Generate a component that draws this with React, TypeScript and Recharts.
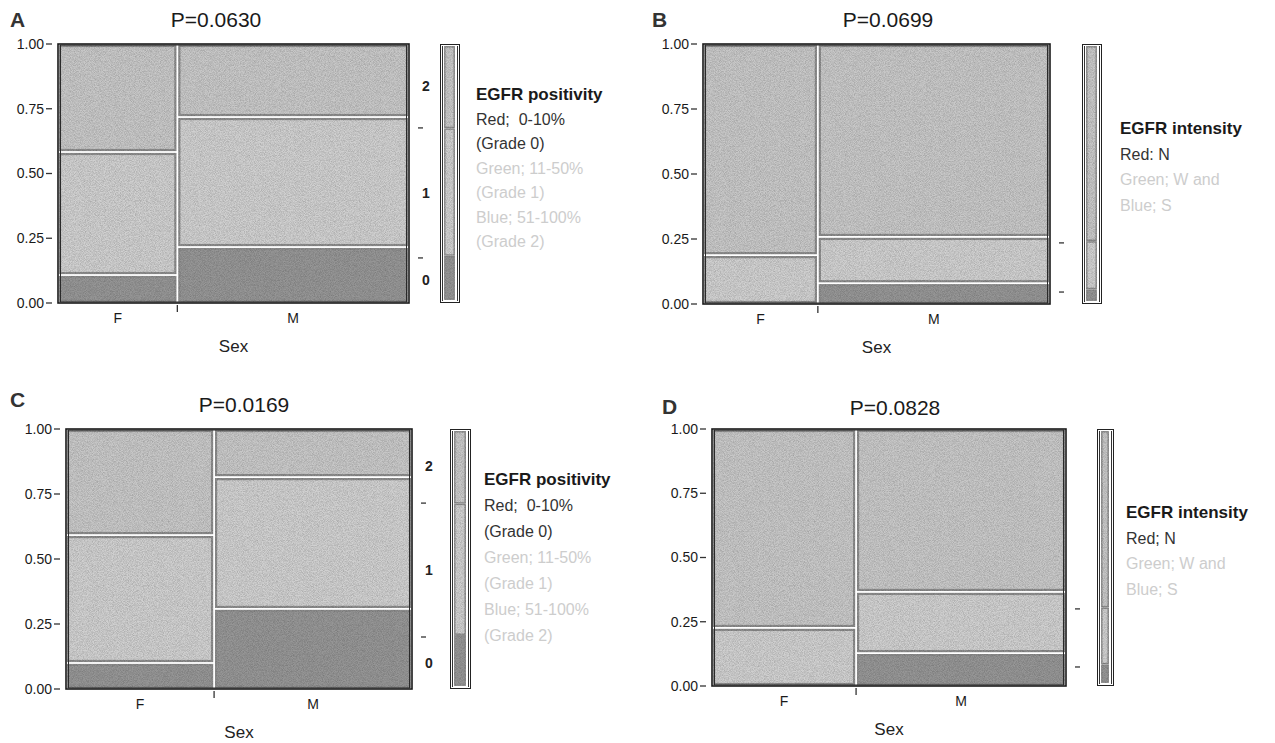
import React from 'react';
import { ComposedChart, BarChart, Bar, Scatter, XAxis, YAxis, ReferenceArea } from 'recharts';

// categories and tick labels
const sexes = ['F', 'M'];
const yTicks = [0, 0.25, 0.5, 0.75, 1];
const gradeNames = ['0', '1', '2'];

// A: EGFR positivity by sex (share of each sex, then grade 0/1/2 proportions)
const sexShareA = [0.34, 0.66];
const posA_F = [0.108, 0.475, 0.417];
const posA_M = [0.216, 0.502, 0.282];
const posA_all = [0.174, 0.502, 0.324];

// B: EGFR intensity by sex (N / W and M / S)
const sexShareB = [0.331, 0.669];
const intB_F = [0, 0.188, 0.812];
const intB_M = [0.08, 0.178, 0.742];
const intB_all = [0.046, 0.189, 0.765];

// C: EGFR positivity by sex
const sexShareC = [0.428, 0.572];
const posC_F = [0.1, 0.492, 0.408];
const posC_M = [0.308, 0.507, 0.185];
const posC_all = [0.2, 0.515, 0.285];

// D: EGFR intensity by sex
const sexShareD = [0.407, 0.593];
const intD_F = [0, 0.226, 0.774];
const intD_M = [0.128, 0.238, 0.634];
const intD_all = [0.074, 0.226, 0.7];

const pValues = ['P=0.0630', 'P=0.0699', 'P=0.0169', 'P=0.0828'];
const positivityLegend = ['Red;  0-10%', '(Grade 0)', 'Green; 11-50%', '(Grade 1)', 'Blue; 51-100%', '(Grade 2)'];
const intensityLegendB = ['Red: N', 'Green; W and', 'Blue; S'];
const intensityLegendD = ['Red; N', 'Green; W and', 'Blue; S'];

const FONT = '"Liberation Sans", Arial, Helvetica, sans-serif';
const cellFills = ['#969696', '#d0d0d0', '#c8c8c8'];
const DARK_TXT = '#333';
const LIGHT_TXT = '#cdcdcd';

const Txt = ({ x, y, size, color = '#222', weight = 400, center = false, children }: any) => (
  <div
    style={{
      position: 'absolute',
      left: x,
      top: y - size * 0.6,
      fontSize: size,
      lineHeight: `${size * 1.2}px`,
      color,
      fontWeight: weight,
      whiteSpace: 'pre',
      fontFamily: FONT,
      transform: center ? 'translateX(-50%)' : undefined,
    }}
  >
    {children}
  </div>
);

const cellShape = (p: any) => {
  const inset = 2;
  const w = Math.max(p.width - 2 * inset, 0);
  const h = Math.max(p.height - 2 * inset, 0);
  if (h < 1) {
    return <line x1={p.x + inset} x2={p.x + inset + w} y1={p.y + p.height - 2.5} y2={p.y + p.height - 2.5} stroke="#8c8c8c" strokeWidth={2} />;
  }
  return (
    <rect x={p.x + inset} y={p.y + inset} width={w} height={h} fill={p.fill} fillOpacity={1} stroke="#8e8e8e" strokeWidth={2.2}
      filter="url(#grain)" />
  );
};

const frameShape = (p: any) => (
  <g fill="none">
    <rect x={p.x} y={p.y} width={p.width} height={p.height} stroke="#1a1a1a" strokeWidth={1.6} />
    <rect x={p.x + 2.5} y={p.y + 1} width={p.width - 5} height={p.height - 2} stroke="#2a2a2a" strokeWidth={1} />
  </g>
);

const barShape = (p: any) => {
  const inset = 0.8;
  return (
    <rect x={p.x + inset} y={p.y + inset} width={Math.max(p.width - 2 * inset, 0)} height={Math.max(p.height - 2 * inset, 0)}
      fill={p.fill} stroke="#8a8a8a" strokeWidth={1.4} filter="url(#grain)" />
  );
};

const noDot = () => <g />;

const cumulative = (vals: number[]) => {
  const out: number[] = [];
  let s = 0;
  vals.forEach((v) => { out.push(s); s += v; });
  return out;
};

const Panel = ({ cfg }: any) => {
  const { L, R, T, B, share, F, M, all, showGrade } = cfg;
  const cols = [F, M];
  const xStart = cumulative(share);
  const plotW = R - L;
  const plotH = B - T;

  const cells: any[] = [];
  cols.forEach((col: number[], si: number) => {
    const yStart = cumulative(col);
    col.forEach((v, gi) => {
      cells.push({ key: `${si}-${gi}`, x1: xStart[si], x2: xStart[si] + share[si], y1: yStart[gi], y2: yStart[gi] + v, fill: cellFills[gi] });
    });
  });
  // cell corners, so the axes have data to work from
  const corners = cells.map((c) => ({ x: c.x2, y: c.y2 }));

  const allStart = cumulative(all);
  const bounds = allStart.slice(1);
  const mids = all.map((v: number, i: number) => allStart[i] + v / 2);
  const marginPts = mids.map((m: number) => ({ x: 1, y: m }));
  const divider = share[0];
  const xTicks = [share[0] / 2, divider, share[0] + share[1] / 2];

  const LeftTick = ({ x, y, payload }: any) => (
    <g>
      <line x1={x - 12} x2={x - 6} y1={y} y2={y} stroke="#333" strokeWidth={1.3} />
      <text x={x - 14} y={y} dy={4.8} textAnchor="end" fontSize={14} fill="#1a1a1a" fontFamily={FONT}>
        {Number(payload.value).toFixed(2)}
      </text>
    </g>
  );

  const RightTick = ({ x, y, payload }: any) => {
    const v = payload.value;
    const gi = mids.findIndex((m: number) => Math.abs(m - v) < 1e-9);
    if (gi >= 0) {
      return showGrade ? (
        <text x={x + 17} y={y} dy={5} textAnchor="middle" fontSize={14} fontWeight="bold" fill="#222" fontFamily={FONT}>
          {gradeNames[gi]}
        </text>
      ) : <g />;
    }
    return <line x1={x + 9} x2={x + 14} y1={y} y2={y} stroke="#333" strokeWidth={1.3} />;
  };

  const BottomTick = ({ x, y, payload }: any) => {
    if (Math.abs(payload.value - divider) < 1e-9) {
      return <line x1={x} x2={x} y1={y + 2} y2={y + 9} stroke="#333" strokeWidth={1.3} />;
    }
    return (
      <text x={x} y={y} dy={20} textAnchor="middle" fontSize={14} fill="#1a1a1a" fontFamily={FONT}>
        {payload.value < divider ? sexes[0] : sexes[1]}
      </text>
    );
  };

  const barData = [{ name: 'all', g0: all[0], g1: all[1], g2: all[2] }];

  return (
    <>
      <div style={{ position: 'absolute', left: L - 45, top: T - 10 }}>
        <ComposedChart width={plotW + 75} height={plotH + 68} margin={{ top: 10, right: 0, bottom: 5, left: 0 }}>
          <XAxis type="number" dataKey="x" domain={[0, 1]} ticks={xTicks} interval={0} tickSize={0} tickMargin={0}
            axisLine={false} tickLine={false} height={53} tick={BottomTick}
            label={{ value: 'Sex', position: 'insideBottom', offset: 4, fontSize: 17, fill: '#222', fontFamily: FONT }} />
          <YAxis yAxisId="l" type="number" dataKey="y" domain={[0, 1]} ticks={yTicks} interval={0} width={45} tickSize={0} tickMargin={0}
            axisLine={false} tickLine={false} tick={LeftTick} />
          <YAxis yAxisId="r" orientation="right" type="number" dataKey="y" domain={[0, 1]} ticks={[...bounds, ...mids]} interval={0}
            width={30} tickSize={0} tickMargin={0} axisLine={false} tickLine={false} tick={RightTick} />
          <Scatter yAxisId="l" data={corners} dataKey="y" shape={noDot} isAnimationActive={false} />
          <Scatter yAxisId="r" data={marginPts} dataKey="y" shape={noDot} isAnimationActive={false} />
          {cells.map((c) => (
            <ReferenceArea key={c.key} yAxisId="l" x1={c.x1} x2={c.x2} y1={c.y1} y2={c.y2} fill={c.fill} fillOpacity={1}
              ifOverflow="visible" shape={cellShape} />
          ))}
          <ReferenceArea yAxisId="l" x1={0} x2={1} y1={0} y2={1} fill="none" ifOverflow="visible" shape={frameShape} />
        </ComposedChart>
      </div>
      <div style={{ position: 'absolute', left: cfg.mx, top: T, width: cfg.mw, height: plotH, boxSizing: 'border-box',
        border: '1.5px solid #222', padding: '1px 1px' }}>
        <div style={{ boxSizing: 'border-box', height: '100%', borderLeft: '1px solid #333', borderRight: '1px solid #333', padding: '0 1px' }}>
          <BarChart width={cfg.mw - 9} height={plotH - 5} data={barData} margin={{ top: 0, right: 0, bottom: 0, left: 0 }} barCategoryGap={0}>
            <XAxis dataKey="name" hide />
            <YAxis type="number" domain={[0, 1]} hide />
            <Bar dataKey="g0" stackId="m" fill={cellFills[0]} isAnimationActive={false} shape={barShape} />
            <Bar dataKey="g1" stackId="m" fill={cellFills[1]} isAnimationActive={false} shape={barShape} />
            <Bar dataKey="g2" stackId="m" fill={cellFills[2]} isAnimationActive={false} shape={barShape} />
          </BarChart>
        </div>
      </div>
      <Txt x={cfg.letX} y={cfg.letY} size={21} weight={700} color="#333">{cfg.letter}</Txt>
      <Txt x={cfg.tx} y={cfg.ty} size={21} center color="#1a1a1a">{cfg.title}</Txt>
      <Txt x={cfg.lx} y={cfg.ly} size={17} weight={700} color="#1a1a1a">{cfg.legendTitle}</Txt>
      {cfg.legend.map((line: string, i: number) => (
        <Txt key={i} x={cfg.lx} y={cfg.ly + (i + 1) * cfg.lgap} size={16} color={cfg.tones[i] ? DARK_TXT : LIGHT_TXT}>
          {line}
        </Txt>
      ))}
    </>
  );
};

const panels = [
  { letter: 'A', title: pValues[0], share: sexShareA, F: posA_F, M: posA_M, all: posA_all, showGrade: true,
    L: 58, R: 409, T: 44, B: 303, mx: 440, mw: 20, lx: 476, ly: 95, lgap: 24.5, tx: 216, ty: 20, letX: 10, letY: 20,
    legendTitle: 'EGFR positivity', legend: positivityLegend, tones: [1, 1, 0, 0, 0, 0] },
  { letter: 'B', title: pValues[1], share: sexShareB, F: intB_F, M: intB_M, all: intB_all, showGrade: false,
    L: 703, R: 1050, T: 44, B: 304, mx: 1082, mw: 20, lx: 1120, ly: 129, lgap: 25.5, tx: 888, ty: 20, letX: 652, letY: 20,
    legendTitle: 'EGFR intensity', legend: intensityLegendB, tones: [1, 0, 0] },
  { letter: 'C', title: pValues[2], share: sexShareC, F: posC_F, M: posC_M, all: posC_all, showGrade: true,
    L: 66, R: 412, T: 429, B: 689, mx: 450, mw: 21, lx: 484, ly: 480, lgap: 26, tx: 244, ty: 405, letX: 10, letY: 400,
    legendTitle: 'EGFR positivity', legend: positivityLegend, tones: [1, 1, 0, 0, 0, 0] },
  { letter: 'D', title: pValues[3], share: sexShareD, F: intD_F, M: intD_M, all: intD_all, showGrade: false,
    L: 712, R: 1066, T: 429, B: 686, mx: 1097, mw: 17, lx: 1126, ly: 513, lgap: 25.5, tx: 895, ty: 408, letX: 662, letY: 407,
    legendTitle: 'EGFR intensity', legend: intensityLegendD, tones: [1, 0, 0] },
];

export default function App() {
  return (
    <div style={{ position: 'absolute', left: 0, top: 0, width: 1275, height: 743, background: '#fff', fontFamily: FONT, overflow: 'hidden' }}>
      <svg width={0} height={0} style={{ position: 'absolute' }}>
        <defs>
          <filter id="grain" filterUnits="userSpaceOnUse" x={0} y={0} width={1300} height={800} colorInterpolationFilters="sRGB">
            <feTurbulence type="fractalNoise" baseFrequency="1.2" numOctaves={1} seed={7} result="noise" />
            <feColorMatrix in="noise" type="matrix" values="0 0 0 0 0  0 0 0 0 0  0 0 0 0 0  0.4 0 0 0 -0.14" result="speck" />
            <feComposite in="speck" in2="SourceGraphic" operator="in" result="speckIn" />
            <feMerge>
              <feMergeNode in="SourceGraphic" />
              <feMergeNode in="speckIn" />
            </feMerge>
          </filter>
        </defs>
      </svg>
      {panels.map((p) => (
        <Panel key={p.letter} cfg={p} />
      ))}
    </div>
  );
}
